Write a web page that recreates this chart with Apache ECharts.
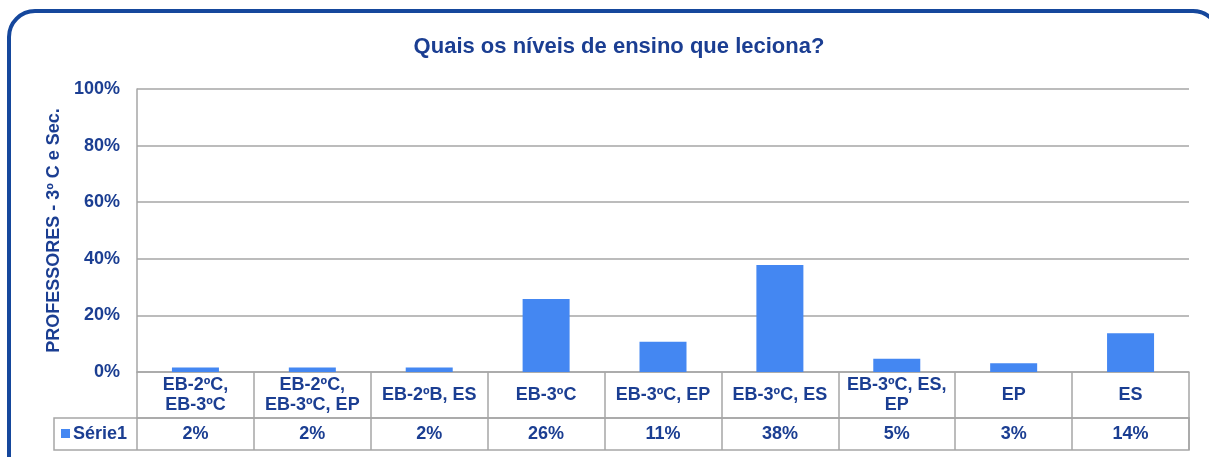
<!DOCTYPE html>
<html>
<head>
<meta charset="utf-8">
<script src="https://cdn.jsdelivr.net/npm/echarts@6/dist/echarts.min.js"></script>
<style>
  html, body { margin: 0; padding: 0; background: #fff; }
  #chart { width: 1209px; height: 457px; }
</style>
</head>
<body>
<div id="chart"></div>
<script>
// data
const categories = [
  "EB-2ºC,\nEB-3ºC",
  "EB-2ºC,\nEB-3ºC, EP",
  "EB-2ºB, ES",
  "EB-3ºC",
  "EB-3ºC, EP",
  "EB-3ºC, ES",
  "EB-3ºC, ES,\nEP",
  "EP",
  "ES"
];
const serie1 = [1.6, 1.6, 1.6, 25.8, 10.7, 37.8, 4.7, 3.1, 13.7];
const tableLabels = ["2%", "2%", "2%", "26%", "11%", "38%", "5%", "3%", "14%"];
const yTicks = [0, 20, 40, 60, 80, 100];

const textBlue = "#1B3E92";
const gridGray = "#A6A6A6";
const barBlue = "#4487F2";
const font = "Liberation Sans, Arial, sans-serif";

// plot area
const gLeft = 137, gRight = 20, gTop = 89, gBottom = 85;
const axisY = 457 - gBottom;      // 372
const rowSplit = axisY + 46;       // 418
const tableBottom = axisY + 78;    // 450

const chart = echarts.init(document.getElementById("chart"));
chart.setOption({
  animation: false,
  title: {
    text: "Quais os níveis de ensino que leciona?",
    left: 614,
    top: 31,
    textAlign: "center",
    textStyle: { color: textBlue, fontFamily: font, fontSize: 22, fontWeight: "bold" }
  },
  grid: { left: gLeft, right: gRight, top: gTop, bottom: gBottom, containLabel: false },
  xAxis: [
    {
      type: "category",
      data: categories,
      position: "bottom",
      axisLine: { lineStyle: { color: gridGray, width: 1.5 } },
      axisTick: { show: true, length: tableBottom - axisY, alignWithLabel: false,
                  lineStyle: { color: gridGray, width: 1.5 } },
      axisLabel: {
        interval: 0, margin: 23, verticalAlign: "middle", lineHeight: 20,
        color: textBlue, fontFamily: font, fontSize: 18, fontWeight: "bold"
      }
    },
    {
      type: "category",
      data: categories,
      position: "bottom",
      offset: rowSplit - axisY,
      axisLine: { lineStyle: { color: gridGray, width: 1.5 } },
      axisTick: { show: false },
      axisLabel: {
        interval: 0, margin: 16, verticalAlign: "middle",
        formatter: (v, i) => tableLabels[i],
        color: textBlue, fontFamily: font, fontSize: 18, fontWeight: "bold"
      }
    }
  ],
  yAxis: {
    type: "value",
    min: yTicks[0],
    max: yTicks[yTicks.length - 1],
    interval: 20,
    name: "PROFESSORES - 3º C e Sec.",
    nameLocation: "middle",
    nameGap: 73,
    nameRotate: 90,
    nameTextStyle: { color: textBlue, fontFamily: font, fontSize: 18, fontWeight: "bold" },
    axisLine: { show: true, lineStyle: { color: gridGray, width: 1.5 } },
    axisTick: { show: false },
    splitLine: { lineStyle: { color: gridGray, width: 1.5 } },
    axisLabel: {
      margin: 17,
      formatter: "{value}%",
      color: textBlue, fontFamily: font, fontSize: 18, fontWeight: "bold"
    }
  },
  series: [
    {
      name: "Série1",
      type: "bar",
      data: serie1,
      barWidth: 47,
      itemStyle: { color: barBlue }
    }
  ],
  graphic: [
    {
      type: "rect",
      shape: { x: 9, y: 11, width: 1210, height: 520, r: 26 },
      style: { fill: "none", stroke: "#15479C", lineWidth: 4 },
      silent: true
    },
    {
      type: "rect",
      shape: { x: 54, y: rowSplit, width: 1209 - gRight - 54, height: tableBottom - rowSplit },
      style: { fill: "none", stroke: gridGray, lineWidth: 1.5 },
      silent: true
    },
    {
      type: "rect",
      shape: { x: 61, y: 429, width: 9, height: 9 },
      style: { fill: barBlue }
    },
    {
      type: "text",
      x: 73, y: 434,
      style: {
        text: "Série1", fill: textBlue, font: "bold 18px " + font,
        verticalAlign: "middle"
      }
    }
  ]
});
</script>
</body>
</html>
